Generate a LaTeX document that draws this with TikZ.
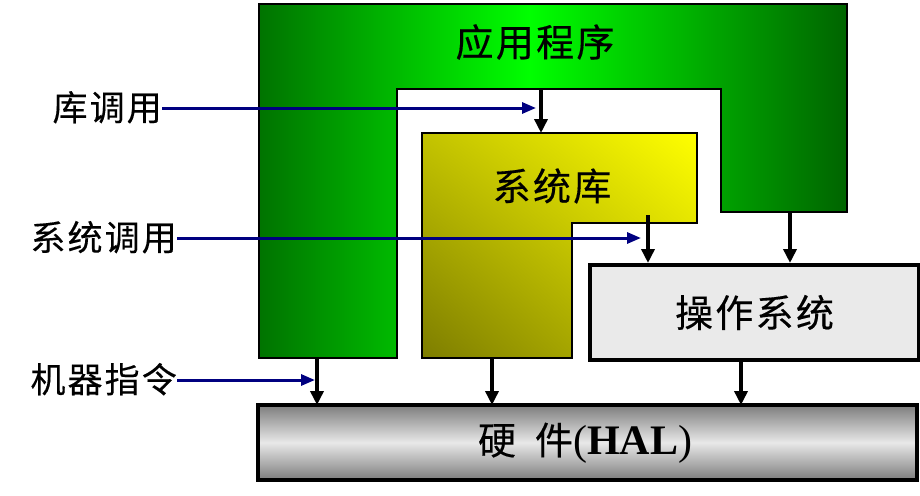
\documentclass[tikz,border=0pt]{standalone}
\usepackage{fontspec}
\setmainfont{Liberation Serif}
\newfontfamily\cjk[LetterSpace=6,FakeBold=0.3]{Noto Sans CJK SC}
\usetikzlibrary{arrows.meta,shadings}
\definecolor{navyb}{RGB}{0,0,128}
\definecolor{gdark}{RGB}{0,115,0}
\definecolor{gbright}{RGB}{0,255,0}
\definecolor{gdark2}{RGB}{0,100,0}
\definecolor{ylw}{RGB}{255,255,0}
\definecolor{olv}{RGB}{125,125,0}
\definecolor{ymid}{RGB}{195,195,0}
\definecolor{osgray}{RGB}{234,234,234}
\definecolor{hwdark}{RGB}{125,125,125}
\definecolor{hwlight}{RGB}{232,232,232}
\pgfdeclarehorizontalshading{greenapp}{100bp}{
  color(0bp)=(gdark); color(25bp)=(gdark); color(48bp)=(gbright); color(75bp)=(gdark2); color(100bp)=(gdark2)}
\tikzset{
  shapeline/.style={draw=black, line width=2.2pt},
  boxline/.style={draw=black, line width=4pt},
  blk/.style={line width=3.5pt, -{Triangle[length=14pt,width=13pt]}},
  blu/.style={draw=navyb, line width=3pt, -{Triangle[length=14pt,width=11pt]}},
  lbl/.style={font=\cjk\fontsize{35}{37}\selectfont, inner sep=0pt, text height=29pt, text depth=4pt},
  title/.style={font=\cjk\fontsize{38}{40}\selectfont, inner sep=0pt}
}
\begin{document}
\begin{tikzpicture}[x=1pt,y=-1pt]
\useasboundingbox (0,0) rectangle (920,495);
% Application (green) shape
\shade[shading=greenapp]
  (259,4) -- (847,4) -- (847,212) -- (721,212) -- (721,89) -- (397,89) -- (397,358) -- (259,358) -- cycle;
\draw[shapeline]
  (259,4) -- (847,4) -- (847,212) -- (721,212) -- (721,89) -- (397,89) -- (397,358) -- (259,358) -- cycle;
\node[title] (app) at (535,42) {应用程序};
% System library (yellow) shape
\shade[upper right=ylw, lower left=olv, upper left=ymid, lower right=ymid]
  (422,133) -- (697,133) -- (697,223) -- (572,223) -- (572,358) -- (422,358) -- cycle;
\draw[shapeline]
  (422,133) -- (697,133) -- (697,223) -- (572,223) -- (572,358) -- (422,358) -- cycle;
\node[title] (lib) at (552,186) {系统库};
% OS box
\node[boxline, fill=osgray, minimum width=329pt, minimum height=95pt, inner sep=0pt, anchor=north west,
      font=\cjk\fontsize{38}{40}\selectfont] (os) at (588,263) {操作系统};
% Hardware box
\shade[top color=hwdark, bottom color=hwdark, middle color=hwlight] (258,405) rectangle (917,480);
\draw[boxline] (258,405) rectangle (917,480);
\node[inner sep=0pt] (hw) at (585,443) {{\cjk\fontsize{38}{40}\selectfont 硬\hspace{0.5em}件}{\fontsize{42}{44}\selectfont(\textbf{HAL})}};
% coordinates
\coordinate (n1s) at (541,89);  \coordinate (n1e) at (541,133);
\coordinate (n2s) at (648,215); \coordinate (n2e) at (648,263);
\coordinate (n3s) at (790,212); \coordinate (n3e) at (790,263);
\coordinate (n4s) at (317,358); \coordinate (n4e) at (317,405);
\coordinate (n5s) at (492,358); \coordinate (n5e) at (492,405);
\coordinate (n6s) at (741,358); \coordinate (n6e) at (741,405);
% black arrows
\draw[blk] (n1s) -- (n1e);
\draw[blk] (n2s) -- (n2e);
\draw[blk] (n3s) -- (n3e);
\draw[blk] (n4s) -- (n4e);
\draw[blk] (n5s) -- (n5e);
\draw[blk] (n6s) -- (n6e);
% labels
\node[lbl, anchor=east] (lcall) at (162,108) {库调用};
\node[lbl, anchor=east] (scall) at (177,238) {系统调用};
\node[lbl, anchor=east] (mcall) at (177,380) {机器指令};
\coordinate (b1) at (536,108);
\coordinate (b2) at (641,238);
\coordinate (b3) at (315,380);
\draw[blu] (lcall.east) -- (b1);
\draw[blu] (scall.east) -- (b2);
\draw[blu] (mcall.east) -- (b3);
\end{tikzpicture}
\end{document}
